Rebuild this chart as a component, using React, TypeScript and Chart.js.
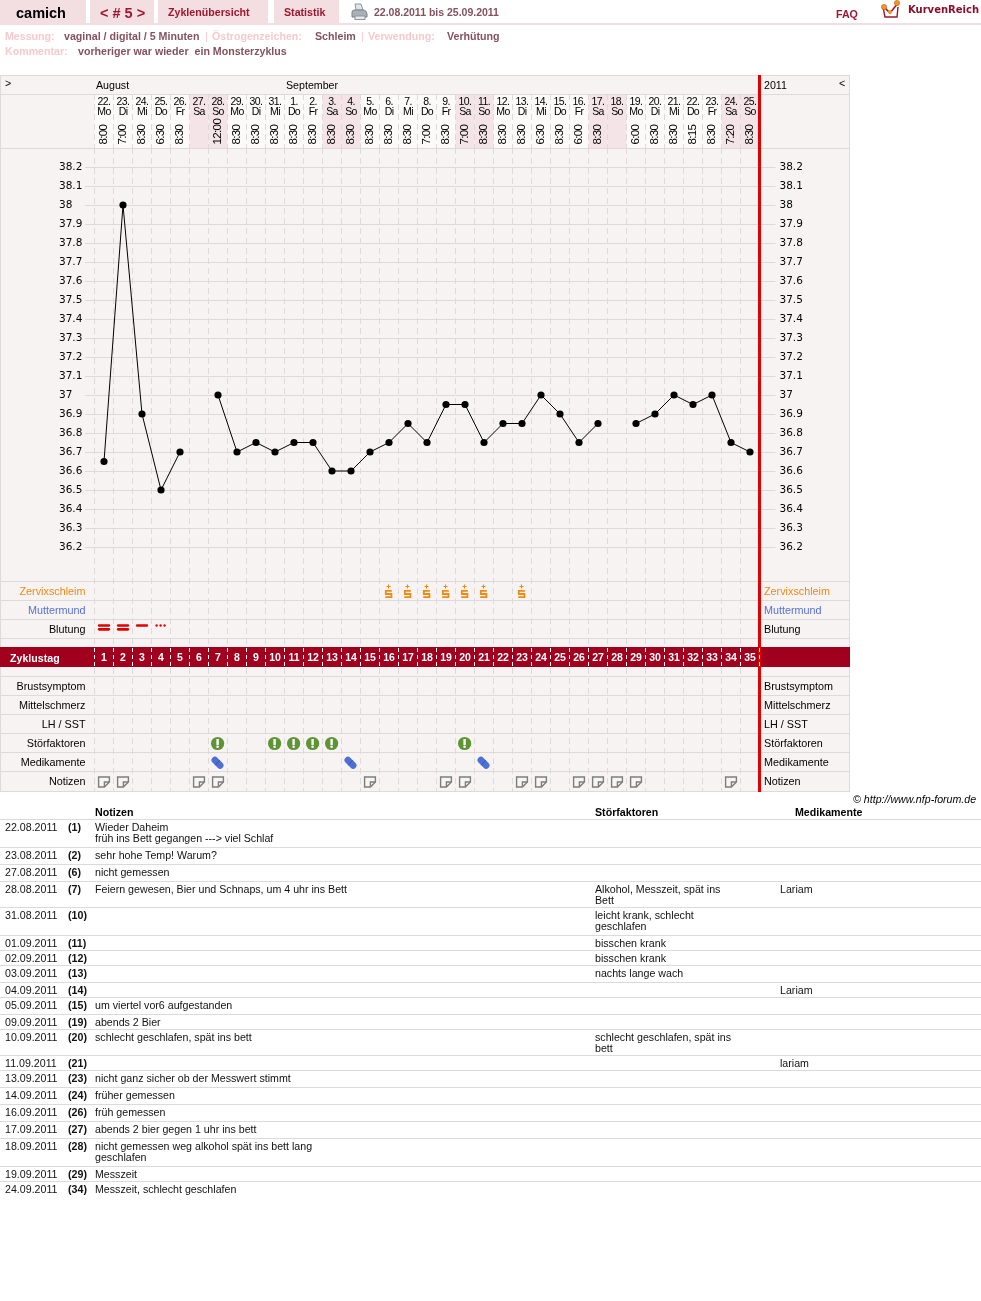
import React, { useEffect, useRef } from "react";
import { Chart, registerables } from "chart.js";

Chart.register(...registerables);

// ---------- data ----------
const dayNumbers = [22,23,24,25,26,27,28,29,30,31,1,2,3,4,5,6,7,8,9,10,11,12,13,14,15,16,17,18,19,20,21,22,23,24,25];
const weekdays = ["Mo","Di","Mi","Do","Fr","Sa","So","Mo","Di","Mi","Do","Fr","Sa","So","Mo","Di","Mi","Do","Fr","Sa","So","Mo","Di","Mi","Do","Fr","Sa","So","Mo","Di","Mi","Do","Fr","Sa","So"];
const times = ["8:00","7:00","8:30","6:30","8:30","","12:00","8:30","8:30","8:30","8:30","8:30","8:30","8:30","8:30","8:30","8:30","7:00","8:30","7:00","8:30","8:30","8:30","6:30","8:30","6:00","8:30","","6:00","8:30","8:30","8:15","8:30","7:20","8:30"];
const cycleDays = dayNumbers.map((_, i) => String(i + 1));
const temperatures = [36.65,38.0,36.9,36.5,36.7,null,37.0,36.7,36.75,36.7,36.75,36.75,36.6,36.6,36.7,36.75,36.85,36.75,36.95,36.95,36.75,36.85,36.85,37.0,36.9,36.75,36.85,null,36.85,36.9,37.0,36.95,37.0,36.75,36.7];
const tempTicks = [38.2,38.1,38,37.9,37.8,37.7,37.6,37.5,37.4,37.3,37.2,37.1,37,36.9,36.8,36.7,36.6,36.5,36.4,36.3,36.2];
const monthNames = ["August","September"];
const monthTickValues = [0.58,10.58];
const rowLabels = ["Zervixschleim","Muttermund","Blutung","Brustsymptom","Mittelschmerz","LH / SST","Störfaktoren","Medikamente","Notizen"];
const rowLabelColors = ["#f08a10","#5572d2","#000","#000","#000","#000","#000","#000","#000"];
const rowLabelValues = [0.55,1.55,2.55,5.55,6.55,7.55,8.55,9.55,10.55];
const rowBoundaries = [-22.842,0,1,2,3,5,6,7,8,9,10,11];
const mucusDays = [16,17,18,19,20,21,23];
const heavyBleedDays = [1,2];
const mediumBleedDays = [3];
const spotBleedDays = [4];
const disturbanceDays = [7,10,11,12,13,20];
const medicationDays = [7,14,21];
const noteDays = [1,2,6,7,15,19,20,23,24,26,27,28,29,34];

const tableDates = ["22.08.2011","23.08.2011","27.08.2011","28.08.2011","31.08.2011","01.09.2011","02.09.2011","03.09.2011","04.09.2011","05.09.2011","09.09.2011","10.09.2011","11.09.2011","13.09.2011","14.09.2011","16.09.2011","17.09.2011","18.09.2011","19.09.2011","24.09.2011"];
const tableCycle = [1,2,6,7,10,11,12,13,14,15,19,20,21,23,24,26,27,28,29,34];
const tableNotes = ["Wieder Daheim\nfrüh ins Bett gegangen ---> viel Schlaf","sehr hohe Temp! Warum?","nicht gemessen","Feiern gewesen, Bier und Schnaps, um 4 uhr ins Bett","","","","","","um viertel vor6 aufgestanden","abends 2 Bier","schlecht geschlafen, spät ins bett","","nicht ganz sicher ob der Messwert stimmt","früher gemessen","früh gemessen","abends 2 bier gegen 1 uhr ins bett","nicht gemessen weg alkohol spät ins bett lang\ngeschlafen","Messzeit","Messzeit, schlecht geschlafen"];
const tableFactors = ["","","","Alkohol, Messzeit, spät ins\nBett","leicht krank, schlecht\ngeschlafen","bisschen krank","bisschen krank","nachts lange wach","","","","schlecht geschlafen, spät ins\nbett","","","","","","","",""];
const tableMeds = ["","","","Lariam","","","","","Lariam","","","","lariam","","","","","","",""];
const tableRowTops = [820,848,865,882,908,936,951,966,983,998,1015,1030,1056,1071,1088,1105,1122,1139,1167,1182];

// ---------- styles ----------
const SANS = '"Liberation Sans", Arial, sans-serif';
const GRID = "#dedada";
const PANEL = "#f8f3f3";
const CRIMSON = "#a0001e";
const RED = "#e00000";

function mark(draw: (c: CanvasRenderingContext2D) => void): HTMLCanvasElement {
  const el = document.createElement("canvas");
  el.width = 20;
  el.height = 19;
  draw(el.getContext("2d") as CanvasRenderingContext2D);
  return el;
}

function barLine(c: CanvasRenderingContext2D, y: number) {
  c.strokeStyle = RED;
  c.lineWidth = 2.7;
  c.lineCap = "round";
  c.beginPath();
  c.moveTo(5.2, y);
  c.lineTo(14.8, y);
  c.stroke();
}

const marks = {
  mucus: () => mark((c) => {
    c.strokeStyle = "#f08a10";
    c.lineWidth = 1.1;
    c.beginPath();
    c.moveTo(7.5, 4.5); c.lineTo(11.5, 4.5);
    c.moveTo(9.5, 2.5); c.lineTo(9.5, 6.5);
    c.stroke();
    c.lineWidth = 1.8;
    c.beginPath();
    c.moveTo(12.8, 8.8); c.lineTo(6.8, 8.8); c.lineTo(6.8, 12); c.lineTo(12.4, 12); c.lineTo(12.4, 15.2); c.lineTo(6.2, 15.2);
    c.stroke();
  }),
  heavy: () => mark((c) => { barLine(c, 5.5); barLine(c, 9.3); }),
  medium: () => mark((c) => { barLine(c, 5.5); }),
  spot: () => mark((c) => {
    c.fillStyle = RED;
    [5.6, 9.6, 13.6].forEach((x) => { c.beginPath(); c.arc(x, 5.5, 1.2, 0, Math.PI * 2); c.fill(); });
  }),
  disturbance: () => mark((c) => {
    c.fillStyle = "#5f9435";
    c.beginPath(); c.arc(9.6, 9.5, 6.6, 0, Math.PI * 2); c.fill();
    c.fillStyle = "#fff";
    c.fillRect(8.4, 5, 2.4, 6);
    c.beginPath(); c.arc(9.6, 12.8, 1.3, 0, Math.PI * 2); c.fill();
  }),
  medication: () => mark((c) => {
    c.strokeStyle = "#4f6fd8";
    c.lineWidth = 6.8;
    c.lineCap = "round";
    c.beginPath(); c.moveTo(6.9, 7.1); c.lineTo(12.1, 12.3); c.stroke();
    c.strokeStyle = "#35509f";
    c.lineWidth = 0.8;
    c.lineCap = "butt";
    c.beginPath(); c.moveTo(7.2, 12.2); c.lineTo(11.8, 7.2); c.stroke();
  }),
  note: () => mark((c) => {
    c.fillStyle = "#f7f6f3";
    c.strokeStyle = "#7d7d7d";
    c.lineWidth = 1.4;
    c.beginPath();
    c.moveTo(4.6, 5); c.lineTo(15.4, 5); c.lineTo(15.4, 10); c.lineTo(10.4, 15); c.lineTo(4.6, 15); c.closePath();
    c.fill(); c.stroke();
    c.beginPath();
    c.moveTo(15.4, 10); c.lineTo(10.4, 10); c.lineTo(10.4, 15);
    c.stroke();
  }),
};

function rowSeries(days: number[], rowValue: number) {
  return dayNumbers.map((_, i) => (days.includes(i + 1) ? rowValue : null));
}

const panelPlugin = {
  id: "panel",
  beforeDraw(chart: any) {
    const { ctx } = chart;
    const x = chart.scales.x;
    const left = x.getPixelForValue(0) - 9.5;
    const right = x.getPixelForValue(34) + 9.5;
    ctx.save();
    ctx.fillStyle = PANEL;
    ctx.fillRect(0, 75, 850, 717);
    ctx.fillStyle = "#fcf9f9";
    ctx.fillRect(left, 94, right - left, 54);
    ctx.fillStyle = "#f4e4e7";
    weekdays.forEach((w, i) => {
      if (w === "Sa" || w === "So") ctx.fillRect(x.getPixelForValue(i) - 9.5, 94, 19, 54);
    });
    ctx.strokeStyle = GRID;
    ctx.lineWidth = 1;
    ctx.beginPath();
    ctx.moveTo(0, 94.5); ctx.lineTo(850, 94.5);
    ctx.stroke();
    ctx.strokeRect(0.5, 75.5, 849, 716);
    ctx.restore();
    // the header day and time labels (z 0) are set tighter, as in the narrow header face
    (ctx as any).letterSpacing = "-0.6px";
  },
  beforeDatasetsDraw(chart: any) {
    const { ctx } = chart;
    (ctx as any).letterSpacing = "0px";
    const rows = chart.scales.yRowsL;
    const top = rows.getPixelForValue(3.5);
    const bottom = rows.getPixelForValue(4.5);
    ctx.save();
    ctx.fillStyle = CRIMSON;
    ctx.fillRect(0, Math.round(top) - 1, 850, Math.round(bottom - top) + 1);
    ctx.restore();
  },
  afterDatasetsDraw(chart: any) {
    const { ctx } = chart;
    const x = chart.scales.x.getPixelForValue(34) + 9.5;
    ctx.save();
    ctx.fillStyle = RED;
    ctx.fillRect(Math.round(x) - 2, 75, 3, 717);
    ctx.restore();
  },
};

function ChartCanvas() {
  const ref = useRef<HTMLCanvasElement>(null);
  useEffect(() => {
    const noMargins = (s: any) => { s.paddingTop = 0; s.paddingBottom = 0; s.paddingLeft = 0; s.paddingRight = 0; };
    const fixedWidth = (w: number) => (s: any) => { s.width = w; noMargins(s); };
    const fixedHeight = (h: number) => (s: any) => { s.height = h; noMargins(s); };
    const noBorder = { display: false };
    const ptImage = (style: HTMLCanvasElement, days: number[], row: number) => ({
      type: "line" as const,
      yAxisID: "yRowsL",
      data: rowSeries(days, row),
      showLine: false,
      pointStyle: style,
      pointRadius: 10,
    });
    const chart = new Chart(ref.current as HTMLCanvasElement, {
      type: "line",
      plugins: [panelPlugin],
      data: {
        labels: dayNumbers.map((d, i) => [d + ".", weekdays[i]]),
        datasets: [
          {
            yAxisID: "yTempL",
            data: temperatures,
            borderColor: "#000",
            borderWidth: 1,
            backgroundColor: "#000",
            pointBackgroundColor: "#000",
            pointBorderWidth: 0,
            pointRadius: 3.6,
            spanGaps: false,
            tension: 0,
          },
          ptImage(marks.mucus(), mucusDays, 0.5),
          ptImage(marks.heavy(), heavyBleedDays, 2.5),
          ptImage(marks.medium(), mediumBleedDays, 2.5),
          ptImage(marks.spot(), spotBleedDays, 2.5),
          ptImage(marks.disturbance(), disturbanceDays, 8.5),
          ptImage(marks.medication(), medicationDays, 9.5),
          ptImage(marks.note(), noteDays, 10.5),
        ] as any,
      },
      options: {
        animation: false,
        responsive: false,
        events: [],
        layout: { autoPadding: false, padding: { left: 59, right: 131, top: 75, bottom: 510 } },
        plugins: { legend: { display: false }, tooltip: { enabled: false } },
        scales: {
          x: {
            position: "top",
            weight: 1,
            offset: true,
            afterFit: fixedHeight(25),
            border: { display: false, dash: [6, 4] },
            grid: { offset: true, color: GRID, drawTicks: false },
            ticks: { autoSkip: false, maxRotation: 0, minRotation: 0, padding: 2, color: "#000", font: { family: SANS, size: 10.5, lineHeight: "10px" } },
          },
          xTime: {
            type: "category",
            labels: times,
            position: "top",
            weight: 0,
            offset: true,
            afterFit: fixedHeight(29),
            border: noBorder,
            grid: { offset: true, drawOnChartArea: false, tickLength: 54, tickColor: GRID, tickBorderDash: [6, 4] },
            ticks: { autoSkip: false, mirror: true, minRotation: 90, maxRotation: 90, padding: -3.4, color: "#000", font: { family: SANS, size: 11.5, lineHeight: "12px" } },
          },
          xMonth: {
            type: "linear",
            position: "top",
            weight: 2,
            min: 0.5,
            max: 35.5,
            afterFit: fixedHeight(19),
            afterBuildTicks: (s: any) => { s.ticks = monthTickValues.map((value) => ({ value })); },
            border: noBorder,
            grid: { display: false, drawTicks: false },
            ticks: {
              autoSkip: false, maxRotation: 0, align: "start", padding: 1, color: "#000", z: 1,
              font: { family: SANS, size: 10.65, lineHeight: "13px" },
              callback: (_v: any, i: number) => monthNames[i],
            },
          },
          xBand: {
            type: "category",
            labels: cycleDays,
            position: { yRowsL: 3.5 },
            offset: true,
            border: noBorder,
            grid: { offset: true, drawOnChartArea: false, tickLength: 19, tickColor: "#fff", tickBorderDash: [4, 3], z: 1 },
            ticks: { autoSkip: false, maxRotation: 0, padding: -15.5, color: "#fff", z: 1, font: { family: SANS, size: 10.5, weight: "bold", lineHeight: "13px" } },
          },
          yTempL: {
            type: "linear",
            position: "left",
            weight: 1,
            min: 34.9158,
            max: 38.3,
            bounds: "data",
            afterFit: fixedWidth(35.5),
            afterBuildTicks: (s: any) => { s.ticks = tempTicks.map((value) => ({ value })); },
            border: noBorder,
            grid: { color: GRID, tickLength: 9.5 },
            ticks: {
              autoSkip: false, crossAlign: "far", color: "#000", z: 1,
              font: { family: '"DejaVu Sans"', size: 10.5 },
              callback: (v: any) => String(v),
            },
          },
          yTempR: {
            type: "linear",
            position: "right",
            weight: 1,
            min: 34.9158,
            max: 38.3,
            bounds: "data",
            afterFit: fixedWidth(90.5),
            afterBuildTicks: (s: any) => { s.ticks = tempTicks.map((value) => ({ value })); },
            border: noBorder,
            grid: { color: GRID, tickLength: 16, drawOnChartArea: false },
            ticks: {
              autoSkip: false, padding: 4, color: "#000", z: 1,
              font: { family: '"DejaVu Sans"', size: 10.5 },
              callback: (v: any) => String(v),
            },
          },
          // row captions on the left side: right-aligned, measured back from the plot's right edge
          yRowsL: {
            type: "linear",
            position: "right",
            weight: 0,
            min: -22.842,
            max: 11,
            reverse: true,
            bounds: "data",
            afterFit: fixedWidth(0),
            afterBuildTicks: (s: any) => { s.ticks = rowLabelValues.map((value) => ({ value })); },
            border: noBorder,
            grid: { display: false, drawTicks: false },
            ticks: {
              autoSkip: false, mirror: true, padding: -674, z: 1, color: (c: any) => rowLabelColors[c.index],
              font: { family: SANS, size: 10.8 },
              callback: (_v: any, i: number) => rowLabels[i],
            },
          },
          // row captions on the right side: left-aligned, measured from the plot's left edge
          yRowsR: {
            type: "linear",
            position: "left",
            weight: 0,
            min: -22.842,
            max: 11,
            reverse: true,
            bounds: "data",
            afterFit: fixedWidth(0),
            afterBuildTicks: (s: any) => { s.ticks = rowLabelValues.map((value) => ({ value })); },
            border: noBorder,
            grid: { display: false, drawTicks: false },
            ticks: {
              autoSkip: false, mirror: true, padding: 669.5, z: 1, color: (c: any) => rowLabelColors[c.index],
              font: { family: SANS, size: 10.8 },
              callback: (_v: any, i: number) => rowLabels[i],
            },
          },
          yLinesL: {
            type: "linear",
            position: "left",
            weight: 0,
            min: -22.842,
            max: 11,
            reverse: true,
            bounds: "data",
            afterFit: fixedWidth(0),
            afterBuildTicks: (s: any) => { s.ticks = rowBoundaries.map((value) => ({ value })); },
            border: noBorder,
            grid: { color: GRID, tickLength: 95 },
            ticks: { autoSkip: false, color: "transparent", callback: () => "" },
          },
          yLinesR: {
            type: "linear",
            position: "right",
            weight: 0,
            min: -22.842,
            max: 11,
            reverse: true,
            bounds: "data",
            afterFit: fixedWidth(0),
            afterBuildTicks: (s: any) => { s.ticks = rowBoundaries.map((value) => ({ value })); },
            border: noBorder,
            grid: { color: GRID, tickLength: 90.5, drawOnChartArea: false },
            ticks: { autoSkip: false, color: "transparent", callback: () => "" },
          },
        },
      } as any,
    });
    return () => chart.destroy();
  }, []);
  return <canvas ref={ref} width={981} height={1301} style={{ position: "absolute", left: 0, top: 0, display: "block" }} />;
}

// ---------- page text ----------
type TProps = { x: number; y: number; size?: number; bold?: boolean; italic?: boolean; color?: string; family?: string; children: React.ReactNode };
function T({ x, y, size = 10.65, bold, italic, color = "#000", family = SANS, children }: TProps) {
  return (
    <div style={{ position: "absolute", left: x, top: y - 7, height: 14, lineHeight: "14px", fontFamily: family, fontSize: size, fontWeight: bold ? "bold" : "normal", fontStyle: italic ? "italic" : "normal", color, whiteSpace: "pre" }}>
      {children}
    </div>
  );
}

function Tab({ x, w }: { x: number; w: number }) {
  return <div style={{ position: "absolute", left: x, top: 0, width: w, height: 23, background: "#f3dfe2" }} />;
}

const TAB = "#a0162f";
const LBL = "#f6c9cd";
const VAL = "#84525e";

function Cell({ x, width, bold, children }: { x: number; width?: number; bold?: boolean; children: React.ReactNode }) {
  return (
    <div style={{ position: "absolute", left: x, top: 2, width, fontFamily: SANS, fontSize: 10.65, lineHeight: "11px", fontWeight: bold ? "bold" : "normal", color: "#111", whiteSpace: "pre" }}>
      {children}
    </div>
  );
}

export default function App() {
  return (
    <div style={{ position: "absolute", left: 0, top: 0, width: 981, height: 1301, overflow: "hidden", background: "#fff" }}>
      <ChartCanvas />
      <Tab x={0} w={86} /><Tab x={90} w={64} /><Tab x={158} w={110} /><Tab x={274} w={65} />
      <div style={{ position: "absolute", left: 0, top: 23, width: 981, height: 2, background: "#f3dfe2" }} />
      <T x={16} y={13} size={14.5} bold>camich</T>
      <T x={100} y={13} size={14.5} bold color={TAB}>{"< # 5 >"}</T>
      <T x={168} y={12} bold color={TAB}>Zyklenübersicht</T>
      <T x={284} y={12} bold color={TAB}>Statistik</T>
      <svg style={{ position: "absolute", left: 351, top: 3 }} width="17" height="18" viewBox="0 0 17 18">
        <path d="M4 1 L10 1 L12 7 L5 7 Z" fill="#dfe6ee" stroke="#8c97a3" />
        <path d="M1 9 Q1 7 4 7 L13 7 Q16 8 16 11 L16 14 L1 14 Z" fill="#aab0b6" stroke="#7c8288" />
        <rect x="4" y="13" width="10" height="3.5" fill="#e7e9eb" stroke="#8f959b" />
      </svg>
      <T x={374} y={12} size={10.5} bold color={VAL}>22.08.2011 bis 25.09.2011</T>
      <T x={836} y={14} bold color={TAB}>FAQ</T>
      <svg style={{ position: "absolute", left: 880, top: 0 }} width="22" height="20" viewBox="0 0 22 20">
        <path d="M3 7 L5 17 L17 17 L18 7" fill="#fff" stroke="#a0162f" strokeWidth="1.4" />
        <path d="M4 7 L10 13 L18 3" fill="none" stroke="#a0162f" strokeWidth="1.6" />
        <circle cx="4" cy="7" r="2.6" fill="#f29a1f" stroke="#c2571a" strokeWidth="0.6" />
        <circle cx="10" cy="12" r="2" fill="#f29a1f" />
        <circle cx="17" cy="3" r="2.6" fill="#f29a1f" stroke="#c2571a" strokeWidth="0.6" />
      </svg>
      <T x={908} y={10} size={10} bold color="#8a0f2a" family='"DejaVu Sans"'>KurvenReich</T>

      <T x={5} y={36} bold color={LBL}>Messung:</T>
      <T x={64} y={36} bold color={VAL}>vaginal / digital / 5 Minuten</T>
      <T x={205} y={36} color={LBL}>|</T>
      <T x={212} y={36} bold color={LBL}>Östrogenzeichen:</T>
      <T x={315} y={36} bold color={VAL}>Schleim</T>
      <T x={361} y={36} color={LBL}>|</T>
      <T x={368} y={36} bold color={LBL}>Verwendung:</T>
      <T x={447} y={36} bold color={VAL}>Verhütung</T>
      <T x={5} y={51} bold color={LBL}>Kommentar:</T>
      <T x={78} y={51} bold color={VAL}>vorheriger war wieder  ein Monsterzyklus</T>

      <T x={5} y={83}>{">"}</T>
      <T x={839} y={83}>{"<"}</T>
      <T x={764} y={85}>2011</T>
      <T x={10} y={658} bold color="#fff">Zyklustag</T>
      <T x={853} y={799} italic>© http://www.nfp-forum.de</T>

      <T x={95} y={812} bold>Notizen</T>
      <T x={595} y={812} bold>Störfaktoren</T>
      <T x={795} y={812} bold>Medikamente</T>
      <div style={{ position: "absolute", left: 0, top: 819, width: 981, height: 1, background: GRID }} />
      {tableDates.map((d, i) => (
        <div key={d} style={{ position: "absolute", left: 0, top: tableRowTops[i], width: 981, height: (i + 1 < tableRowTops.length ? tableRowTops[i + 1] : tableRowTops[i] + 15) - tableRowTops[i] - 1, borderBottom: i + 1 < tableDates.length ? `1px solid ${GRID}` : "none" }}>
          <Cell x={5}>{d}</Cell>
          <Cell x={68} bold>{`(${tableCycle[i]})`}</Cell>
          <Cell x={95}>{tableNotes[i]}</Cell>
          <Cell x={595}>{tableFactors[i]}</Cell>
          <Cell x={780}>{tableMeds[i]}</Cell>
        </div>
      ))}
    </div>
  );
}
